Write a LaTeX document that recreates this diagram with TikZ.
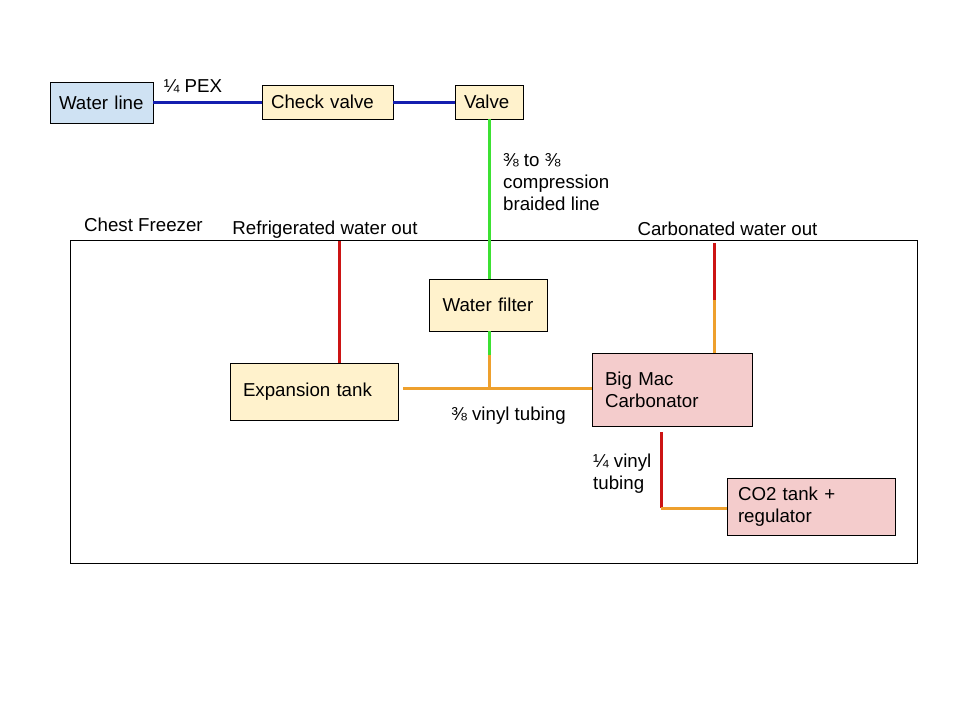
\documentclass[tikz,border=0pt]{standalone}
\usepackage{fontspec}
\setmainfont{Liberation Sans}
\usepackage{tikz}

\definecolor{lineblue}{RGB}{207,226,243}
\definecolor{partyellow}{RGB}{255,242,204}
\definecolor{partpink}{RGB}{244,204,204}
\definecolor{pexblue}{RGB}{20,30,175}
\definecolor{braidgreen}{RGB}{60,225,50}
\definecolor{vinylorange}{RGB}{238,160,45}
\definecolor{hotred}{RGB}{204,20,20}

\tikzset{
	part/.style={shape=rectangle,draw=black,line width=0.8pt,inner xsep=9pt,inner ysep=0pt,align=left},
	pipe/.style={line width=3pt},
	note/.style={inner sep=0pt,align=left}
}

\begin{document}
\begin{tikzpicture}[x=1pt,y=-1pt,font=\fontsize{18.7}{22}\selectfont]
	
	\useasboundingbox[fill=white] (0,0) rectangle (960,720);
	
	% chest freezer
	\draw[line width=0.8pt] (70,240) rectangle (917,563);
	\node[note,anchor=west] (freezer) at (84,225) {Chest Freezer};
	
	\node[part,fill=lineblue,text width=85pt,minimum height=41pt] (waterline) at (101.5,102.5) {Water line};
	\node[part,fill=partyellow,text width=113pt,minimum height=34pt] (check) at (327.5,102) {Check valve};
	\node[part,fill=partyellow,text width=50pt,minimum height=34pt] (valve) at (489,102) {Valve};
	
	\node[part,fill=partyellow,text width=100pt,minimum height=52pt,align=center] (filter) at (488,305) {Water filter};
	\node[part,fill=partyellow,inner xsep=13pt,text width=142pt,minimum height=57pt] (tank) at (314,391.5) {Expansion tank};
	\node[part,fill=partpink,inner xsep=13pt,text width=134pt,minimum height=73pt] (carbonator) at (672,389.5) {Big Mac\\Carbonator};
	\node[part,fill=partpink,inner xsep=11pt,text width=146pt,minimum height=57pt] (co2) at (811,506.5) {CO2 tank +\\regulator};
	
	% labels
	\node[note] (pexlabel) at (193,86) {¼ PEX};
	\node[note,anchor=west] (braidlabel) at (503,182) {⅜ to ⅜\\compression\\braided line};
	\node[note] (refout) at (325,230) {Refrigerated water out};
	\node[note] (carbout) at (727.5,229) {Carbonated water out};
	\node[note] (vinyllabel) at (508.5,416) {⅜ vinyl tubing};
	\node[note,anchor=west] (smallvinyl) at (593,473.5) {¼ vinyl\\tubing};
	
	% pipe ends
	\coordinate (refend) at (339,241);
	\coordinate (carbend) at (714,243);
	\coordinate (carbjoin) at (714,300);
	\coordinate (filterjoin) at (489,355);
	\coordinate (tee) at (489,388);
	\coordinate (tankport) at (403,388);
	\coordinate (co2port) at (661,432);
	\coordinate (co2bend) at (661,508);
	
	\path[pipe,pexblue] (waterline.east) edge (check.west |- waterline.east);
	\path[pipe,pexblue] (check.east) edge (valve.west |- check.east);
	\draw[pipe,braidgreen] (valve.south -| 489,0) -- (filter.north -| 489,0);
	\draw[pipe,braidgreen] (filter.south -| 489,0) -- (filterjoin);
	\draw[pipe,vinylorange] (filterjoin) -- (tee);
	\draw[pipe,vinylorange] (tankport) -- (tee) -- (carbonator.west |- tee);
	
	\draw[pipe,hotred] (refend) -- (refend |- tank.north);
	\draw[pipe,hotred] (carbend) -- (carbjoin);
	\draw[pipe,vinylorange] (carbjoin) -- (carbjoin |- carbonator.north);
	
	\draw[pipe,hotred] (co2port) -- (co2bend);
	\draw[pipe,vinylorange] (co2bend) -- (co2.west |- co2bend);
	
\end{tikzpicture}
\end{document}
